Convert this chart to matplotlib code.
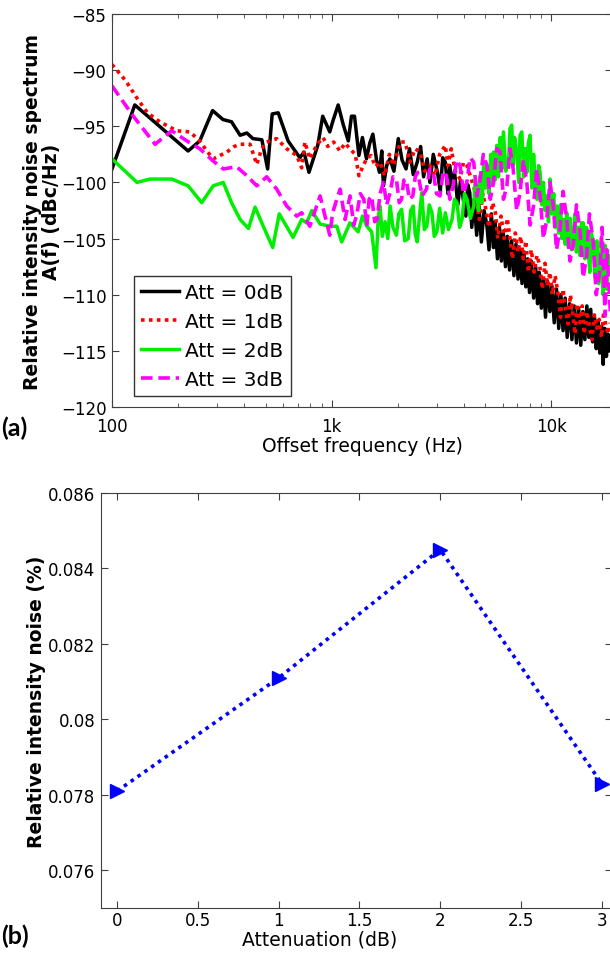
import numpy as np
import matplotlib
matplotlib.use('Agg')
import matplotlib.pyplot as plt
from matplotlib.ticker import FixedLocator, FixedFormatter, LogLocator, NullFormatter

# ---- panel (a): RIN spectra, frequency in Hz, level in dBc/Hz ----
f_0db = [100, 127, 222, 251, 287, 320, 350, 383, 411, 438, 481, 511, 536, 571, 633, 716, 748, 788,
         864, 910, 980, 1010, 1070, 1130, 1190, 1230, 1270, 1330, 1380, 1440, 1490, 1540, 1600, 1650,
         1690, 1720, 1780, 1840, 1920, 2010, 2090, 2180, 2260, 2350, 2450, 2540, 2620, 2720, 2800,
         2900, 3030, 3120, 3200, 3290, 3380, 3450, 3530, 3620, 3750, 3860, 3970, 4080, 4160, 4250,
         4340, 4450, 4570, 4680, 4800, 4940, 5090, 5200, 5330, 5450, 5540, 5680, 5800, 5920, 6040,
         6180, 6300, 6450, 6590, 6750, 6900, 7050, 7200, 7350, 7500, 7650, 7800, 7950, 8100, 8300,
         8480, 8650, 8800, 9000, 9200, 9400, 9600, 9840, 10050, 10300, 10550, 10800, 11050, 11300,
         11550, 11800, 12100, 12400, 12700, 13000, 13300, 13600, 13900, 14200, 14500, 14800, 15100,
         15400, 15700, 16000, 16300, 16600, 16900, 17200, 17500, 17800, 18100, 18500]
a_0db = [-98.8, -93.1, -97.2, -96.3, -93.6, -94.4, -94.6, -95.8, -95.6, -96.1, -96.2, -98.8, -93.9,
         -93.8, -96.3, -97.8, -97.3, -99.1, -96.7, -94.1, -95.5, -94.6, -93.1, -94.9, -96.3, -94.1,
         -94.1, -97.6, -96.0, -97.9, -96.5, -95.7, -98.0, -99.1, -97.2, -100.3, -98.5, -97.9, -99.0,
         -96.1, -98.0, -98.8, -97.0, -99.3, -98.2, -96.8, -99.5, -97.9, -100.0, -97.5, -99.1, -100.8,
         -97.8, -98.2, -101.0, -98.5, -100.6, -99.0, -102.0, -99.8, -101.5, -103.0, -100.2, -100.9,
         -104.0, -101.5, -104.7, -102.0, -105.3, -102.5, -103.9, -106.0, -102.8, -105.8, -103.5,
         -106.8, -104.0, -107.0, -104.5, -107.5, -104.8, -107.8, -105.2, -108.3, -105.5, -108.6,
         -106.0, -109.0, -106.2, -109.3, -106.8, -109.8, -107.0, -110.3, -107.5, -110.8, -108.0,
         -111.2, -108.6, -112.0, -108.8, -111.5, -109.2, -112.5, -109.5, -113.0, -110.0, -113.2,
         -110.3, -113.8, -110.8, -114.0, -111.0, -114.3, -111.2, -114.5, -111.5, -114.0, -111.0,
         -113.8, -111.3, -114.2, -112.0, -114.8, -112.3, -115.2, -112.8, -116.2, -113.0, -115.5,
         -113.5, -115.0]

f_1db = [100, 115, 130, 145, 165, 197, 226, 251, 270, 289, 310, 333, 360, 383, 425, 456, 480, 506,
         562, 624, 693, 730, 755, 795, 853, 913, 960, 1020, 1090, 1150, 1210, 1280, 1330, 1370, 1440,
         1510, 1580, 1660, 1740, 1830, 1920, 2050, 2160, 2270, 2400, 2525, 2650, 2800, 2950, 3100,
         3290, 3380, 3500, 3650, 3840, 3980, 4130, 4270, 4450, 4700, 4880, 5000, 5200, 5400, 5560,
         5700, 5900, 6100, 6300, 6450, 6650, 6850, 7050, 7250, 7450, 7650, 7850, 8100, 8350, 8600,
         8850, 9100, 9350, 9600, 9850, 10100, 10400, 10700, 11000, 11300, 11600, 11900, 12200,
         12500, 12800, 13100, 13500, 13800, 14100, 14500, 14900, 15300, 15700, 16100, 16500,
         16900, 17300, 17700, 18100, 18500]
a_1db = [-89.5, -90.9, -92.5, -93.8, -94.6, -95.4, -95.5, -96.3, -97.2, -97.9, -97.6, -97.3, -96.8,
         -96.6, -96.6, -98.4, -97.0, -96.4, -96.1, -97.0, -97.6, -98.7, -96.4, -97.9, -96.7, -96.0,
         -96.8, -96.4, -97.2, -96.5, -97.0, -97.5, -99.4, -98.8, -97.9, -97.6, -98.6, -98.2, -99.4,
         -97.5, -98.5, -96.4, -96.4, -98.2, -97.0, -97.3, -99.0, -98.5, -99.4, -97.5, -96.7, -98.5,
         -97.0, -99.0, -99.7, -98.2, -98.5, -99.4, -100.5, -103.3, -101.0, -102.1, -104.0, -101.8,
         -102.7, -105.0, -103.0, -105.0, -103.2, -104.7, -106.8, -104.5, -106.2, -104.8, -106.8,
         -105.2, -108.0, -106.0, -108.0, -106.5, -107.4, -109.5, -107.2, -109.2, -108.0, -110.0,
         -108.3, -109.8, -112.0, -109.5, -111.3, -112.6, -110.0, -111.6, -113.5, -110.8, -112.5,
         -111.0, -113.5, -111.5, -112.8, -114.0, -111.8, -113.0, -112.2, -113.8, -111.5, -112.8,
         -113.5, -112.5]

f_2db = [100, 130, 149, 187, 222, 256, 289, 321, 350, 383, 418, 448, 488, 539, 577, 667, 730, 769,
         812, 885, 980, 1055, 1110, 1210, 1320, 1380, 1445, 1520, 1590, 1630, 1660, 1700, 1750, 1800,
         1844, 1900, 1970, 2020, 2080, 2150, 2230, 2290, 2350, 2400, 2450, 2510, 2570, 2640, 2710,
         2780, 2860, 2930, 3010, 3100, 3200, 3290, 3400, 3530, 3620, 3720, 3820, 3920, 4020, 4130,
         4280, 4430, 4500, 4580, 4660, 4740, 4830, 4920, 5000, 5090, 5200, 5300, 5380, 5450, 5540,
         5640, 5740, 5850, 5950, 6050, 6200, 6380, 6480, 6600, 6700, 6800, 6960, 7100, 7200, 7330,
         7500, 7600, 7730, 7850, 8000, 8150, 8300, 8430, 8600, 8750, 8880, 9050, 9200, 9350, 9520,
         9700, 9860, 10050, 10250, 10400, 10580, 10800, 11000, 11150, 11340, 11540, 11740, 11950,
         12150, 12350, 12570, 12800, 13000, 13250, 13500, 13700, 13960, 14200, 14450, 14700, 14950,
         15200, 15500, 15800, 16100, 16400, 16660, 16900, 17200, 17560, 17850, 18200, 18500]
a_2db = [-97.9, -100.0, -99.7, -99.7, -100.3, -101.8, -100.3, -100.0, -101.8, -103.3, -104.1,
         -102.2, -103.9, -105.8, -102.8, -104.9, -103.3, -103.6, -102.5, -103.7, -103.9, -103.9,
         -105.3, -103.6, -104.4, -103.0, -103.9, -104.4, -107.6, -103.0, -102.1, -104.8, -103.5,
         -105.0, -102.1, -104.0, -104.7, -102.8, -102.4, -105.2, -105.0, -102.5, -102.1, -104.6,
         -105.3, -103.0, -100.9, -104.2, -103.9, -102.0, -102.7, -104.8, -104.4, -102.3, -104.5,
         -102.7, -104.2, -103.3, -101.5, -101.8, -104.0, -103.3, -101.0, -101.5, -103.2, -102.1,
         -99.8, -100.6, -102.5, -99.4, -101.8, -98.2, -100.5, -98.5, -101.0, -97.5, -100.2, -97.3,
         -99.8, -96.7, -99.5, -96.0, -98.8, -95.5, -99.0, -98.2, -95.2, -94.9, -98.5, -96.0, -97.3,
         -100.0, -95.8, -95.5, -99.5, -97.0, -99.1, -96.5, -95.8, -100.5, -97.5, -99.7, -101.5,
         -98.5, -99.1, -102.0, -100.0, -102.5, -101.2, -103.5, -99.7, -102.8, -101.0, -104.0, -102.1,
         -104.5, -102.0, -105.0, -103.3, -105.5, -102.7, -105.8, -103.2, -106.0, -104.7, -102.8,
         -106.2, -104.0, -106.5, -103.6, -103.6, -106.8, -104.0, -105.8, -108.0, -104.5, -105.3,
         -108.5, -105.2, -109.0, -107.7, -105.0, -110.0, -105.6, -109.5, -106.5, -107.1]

f_3db = [100, 125, 157, 187, 219, 251, 289, 321, 369, 411, 456, 506, 562, 624, 693, 730, 795, 885,
         980, 1010, 1055, 1092, 1150, 1212, 1260, 1300, 1350, 1400, 1445, 1480, 1520, 1570, 1610,
         1660, 1720, 1780, 1844, 1900, 1970, 2030, 2080, 2130, 2180, 2260, 2340, 2400, 2460, 2580,
         2700, 2800, 2900, 3000, 3110, 3220, 3330, 3450, 3570, 3700, 3840, 3980, 4120, 4270, 4430,
         4580, 4740, 4900, 5090, 5270, 5450, 5640, 5840, 6050, 6270, 6480, 6700, 6950, 7200, 7450,
         7730, 8000, 8290, 8580, 8880, 9200, 9520, 9850, 10200, 10550, 10950, 11300, 11740, 12150,
         12570, 13000, 13510, 13950, 14480, 14900, 15500, 16000, 16660, 17000, 17560, 17900, 18300,
         18600]
a_3db = [-91.4, -94.1, -96.6, -95.4, -96.3, -97.0, -98.1, -98.8, -98.6, -99.4, -100.3, -99.5,
         -100.6, -102.1, -103.0, -102.7, -103.9, -101.2, -104.7, -102.7, -101.5, -100.6, -103.3,
         -101.2, -103.8, -102.9, -101.0, -101.5, -103.9, -101.5, -101.2, -103.5, -103.3, -101.0,
         -100.0, -102.0, -100.9, -99.5, -99.7, -101.8, -101.5, -99.8, -99.7, -101.5, -101.2, -99.5,
         -99.1, -101.2, -100.6, -98.8, -99.1, -101.0, -101.2, -99.0, -99.4, -101.5, -100.3, -98.0,
         -98.5, -101.0, -100.0, -97.8, -98.2, -101.2, -99.7, -97.5, -98.5, -101.5, -100.0, -97.0,
         -97.3, -101.5, -100.3, -97.0, -98.8, -102.5, -100.9, -98.0, -100.0, -103.8, -102.1, -98.8,
         -101.2, -105.0, -103.3, -100.0, -102.1, -106.0, -104.1, -100.8, -103.3, -107.0, -105.6,
         -102.0, -104.4, -108.5, -106.5, -102.8, -105.3, -110.0, -107.7, -104.0, -111.9, -106.0,
         -109.4, -112.0]

labels_a = ['Att = 0dB', 'Att = 1dB', 'Att = 2dB', 'Att = 3dB']

# ---- panel (b): integrated RIN vs attenuation ----
att_db = [0, 1, 2, 3]
rin_pct = [0.0781, 0.0811, 0.0845, 0.0783]

plt.rcParams['font.family'] = ['DejaVu Sans']
plt.rcParams['xtick.direction'] = 'in'
plt.rcParams['ytick.direction'] = 'in'

W, H = 610, 954
fig = plt.figure(figsize=(W / 100, H / 100), dpi=100)

spine_c = '#404040'
tick_fs = 12

# top panel
ax1 = fig.add_axes([112 / W, (H - 408) / H, 500 / W, 393 / H])
ax1.set_xscale('log')
ax1.plot(f_0db, a_0db, color='k', lw=2.5, ls='-', label=labels_a[0])
ax1.plot(f_1db, a_1db, color='#ff0000', lw=2.6, ls=(0, (1, 1.2)), label=labels_a[1])
ax1.plot(f_2db, a_2db, color='#00ee00', lw=2.5, ls='-', label=labels_a[2])
ax1.plot(f_3db, a_3db, color='#ff00ff', lw=2.6, ls=(0, (3.2, 1.6)), label=labels_a[3])
ax1.set_xlim(100, 10 ** (2 + 500 / 219.7))
ax1.set_ylim(-120, -85)
ax1.xaxis.set_major_locator(FixedLocator([100, 1000, 10000]))
ax1.xaxis.set_major_formatter(FixedFormatter(['100', '1k', '10k']))
ax1.xaxis.set_minor_locator(LogLocator(base=10, subs=np.arange(2, 10)))
ax1.xaxis.set_minor_formatter(NullFormatter())
ax1.set_yticks(np.arange(-120, -84, 5))
ax1.tick_params(which='both', top=True, right=True, labelsize=tick_fs, color=spine_c, pad=4)
ax1.tick_params(axis='x', pad=7)
ax1.tick_params(which='major', length=5)
ax1.tick_params(which='minor', length=3)
for s in ax1.spines.values():
    s.set_color(spine_c)
ax1.set_xlabel('Offset frequency (Hz)', fontsize=13.5, labelpad=1)
ax1.set_ylabel('Relative intensity noise spectrum\nA(f) (dBc/Hz)', fontsize=13.5,
               fontweight='bold', linespacing=1.0)
ax1.yaxis.set_label_coords(-0.102, 0.5)
leg = ax1.legend(loc='lower left', bbox_to_anchor=(22 / 500, 11 / 393), fontsize=14.5,
                 frameon=True, fancybox=False, edgecolor='k', handlelength=1.9,
                 handletextpad=0.3, labelspacing=0.5, borderpad=0.35, borderaxespad=0)
leg.get_frame().set_linewidth(1.0)

# bottom panel
ax2 = fig.add_axes([101 / W, (H - 909) / H, 511 / W, 415 / H])
ax2.plot(att_db, rin_pct, color='#0000ff', lw=2.6, ls=(0, (1, 1.3)),
         marker='>', markersize=10, markeredgecolor='#0000ff', markerfacecolor='#0000ff',
         clip_on=False)
ax2.set_xlim(-0.1, 3 + 10.3 / 161.6)
ax2.set_ylim(0.075, 0.086)
ax2.set_xticks([0, 0.5, 1, 1.5, 2, 2.5, 3])
ax2.set_xticklabels(['0', '0.5', '1', '1.5', '2', '2.5', '3'])
ax2.set_yticks([0.076, 0.078, 0.08, 0.082, 0.084, 0.086])
ax2.set_yticklabels(['0.076', '0.078', '0.08', '0.082', '0.084', '0.086'])
ax2.tick_params(which='both', top=True, right=True, labelsize=tick_fs, color=spine_c,
                length=5, pad=4)
ax2.tick_params(axis='x', pad=2)
for s in ax2.spines.values():
    s.set_color(spine_c)
ax2.set_xlabel('Attenuation (dB)', fontsize=13.5)
ax2.xaxis.set_label_coords((320 - 101) / 511, -0.052)
ax2.set_ylabel('Relative intensity noise (%)', fontsize=13.5, fontweight='bold')
ax2.yaxis.set_label_coords(-0.108, 0.5)

# panel tags
fig.text(1 / W, (H - 428) / H, '(a)', fontsize=18, fontweight='bold', family='Lato',
         va='center', ha='left')
fig.text(1 / W, (H - 936) / H, '(b)', fontsize=18, fontweight='bold', family='Lato',
         va='center', ha='left')

fig.savefig('out.png', dpi=100)
